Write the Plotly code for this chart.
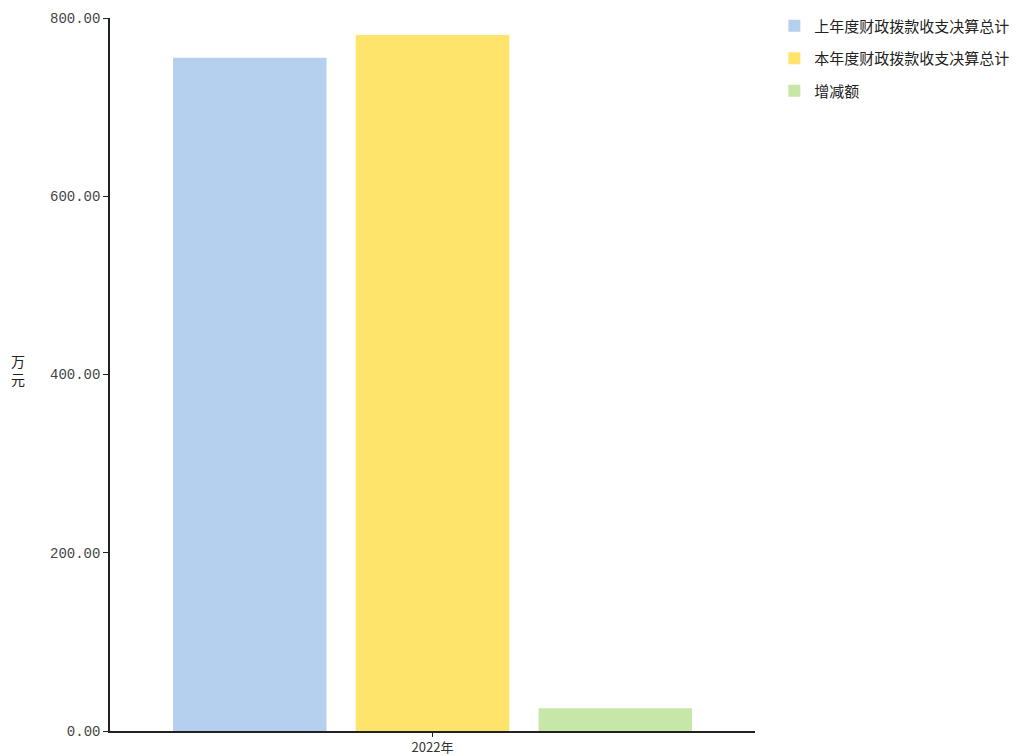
import plotly.graph_objects as go

categories = ["2022年"]
series_names = ["上年度财政拨款收支决算总计", "本年度财政拨款收支决算总计", "增减额"]
last_year = [755.5]
this_year = [781.0]
change = [25.5]
series_values = [last_year, this_year, change]
series_colors = ["#b5cfef", "#ffe46c", "#c6e7a8"]
tick_values = [0, 200, 400, 600, 800]
tick_labels = ["0.00", "200.00", "400.00", "600.00", "800.00"]
y_title = "万<br>元"

fig = go.Figure()
for i, (name, vals, col) in enumerate(zip(series_names, series_values, series_colors)):
    fig.add_trace(go.Bar(
        x=categories, y=vals, name=name, legendgroup=f"g{i}",
        marker=dict(color=col, line=dict(width=0)),
    ))

fig.update_layout(
    width=1019, height=756,
    margin=dict(l=110, r=264, t=18, b=25, autoexpand=False),
    paper_bgcolor="white", plot_bgcolor="white",
    barmode="group", bargap=0.15, bargroupgap=0.16,
    showlegend=True,
    legend=dict(
        x=1.03, y=1.012, xanchor="left", yanchor="top",
        font=dict(family="Noto Sans CJK SC", size=15, color="#222"),
        bgcolor="rgba(0,0,0,0)", tracegroupgap=10, itemsizing="constant",
    ),
    xaxis=dict(
        showline=True, linecolor="#222", linewidth=1.5,
        ticks="outside", ticklen=4, tickcolor="#222", automargin=False,
        tickfont=dict(family="Noto Sans CJK SC", size=13, color="#333"),
        showgrid=False, zeroline=False,
    ),
    yaxis=dict(
        range=[0, 800], showline=True, linecolor="#222", linewidth=1.5,
        ticks="outside", ticklen=5, tickcolor="#222", automargin=False,
        tickvals=tick_values, ticktext=tick_labels,
        tickfont=dict(family="Liberation Mono", size=14, color="#444"),
        showgrid=False, zeroline=False,
    ),
    annotations=[dict(
        text=y_title, xref="paper", yref="paper", x=-0.143, y=0.506,
        xanchor="center", yanchor="middle", showarrow=False,
        font=dict(family="Noto Sans CJK SC", size=14, color="#222"),
    )],
)

fig.write_html("out.html")
